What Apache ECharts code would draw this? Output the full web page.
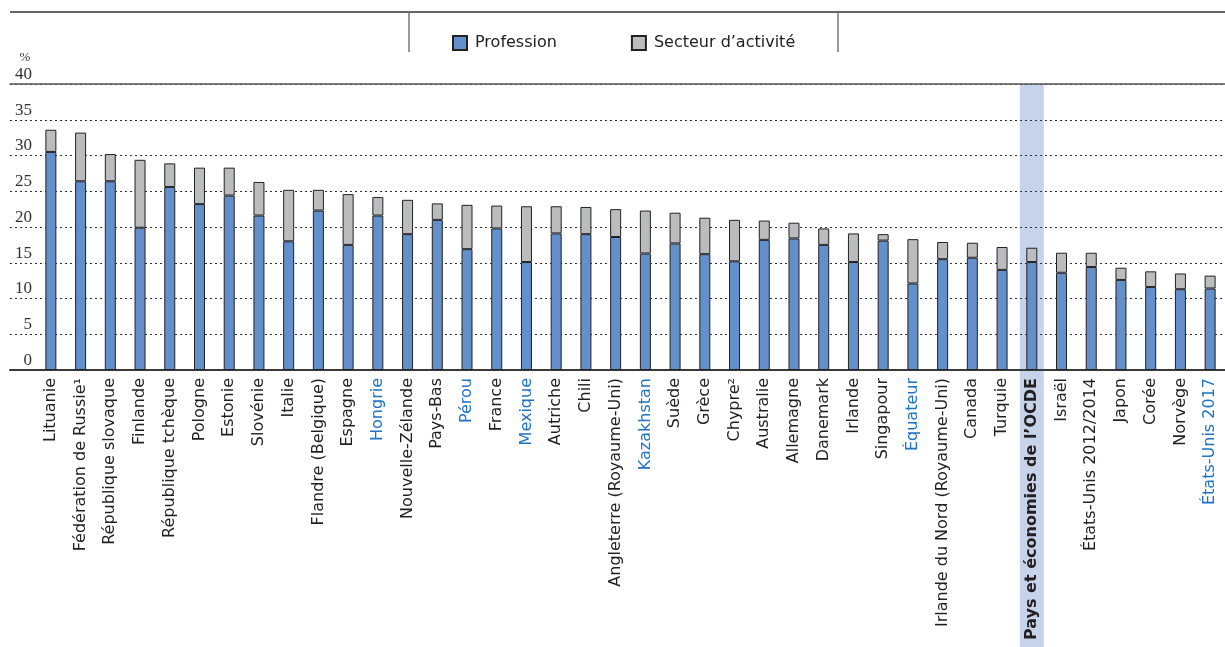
<!DOCTYPE html>
<html>
<head>
<meta charset="utf-8">
<style>
  html, body { margin: 0; padding: 0; background: #ffffff; }
  #chart { width: 1225px; height: 647px; }
</style>
<script src="https://cdn.jsdelivr.net/npm/echarts@6/dist/echarts.min.js"></script>
</head>
<body>
<div id="chart"></div>
<script>
// Countries / economies, in display order
const categories = [
  'Lituanie', 'Fédération de Russie¹', 'République slovaque', 'Finlande', 'République tchèque',
  'Pologne', 'Estonie', 'Slovénie', 'Italie', 'Flandre (Belgique)',
  'Espagne', 'Hongrie', 'Nouvelle-Zélande', 'Pays-Bas', 'Pérou',
  'France', 'Mexique', 'Autriche', 'Chili', 'Angleterre (Royaume-Uni)',
  'Kazakhstan', 'Suède', 'Grèce', 'Chypre²', 'Australie',
  'Allemagne', 'Danemark', 'Irlande', 'Singapour', 'Équateur',
  'Irlande du Nord (Royaume-Uni)', 'Canada', 'Turquie', 'Pays et économies de l’OCDE', 'Israël',
  'États-Unis 2012/2014', 'Japon', 'Corée', 'Norvège', 'États-Unis 2017'
];

// Mismatch by occupation (%), lower segment
const profession = [
  30.5, 26.4, 26.4, 19.9, 25.6,
  23.2, 24.4, 21.6, 18.0, 22.3,
  17.5, 21.6, 19.0, 21.0, 16.9,
  19.8, 15.1, 19.1, 19.0, 18.6,
  16.3, 17.7, 16.2, 15.2, 18.2,
  18.4, 17.5, 15.1, 18.1, 12.1,
  15.5, 15.7, 14.0, 15.1, 13.6,
  14.4, 12.6, 11.6, 11.3, 11.4
];

// Additional mismatch by industry (%), upper segment
const secteur = [
  3.1, 6.8, 3.8, 9.5, 3.3,
  5.1, 3.9, 4.7, 7.2, 2.9,
  7.1, 2.6, 4.8, 2.3, 6.2,
  3.2, 7.8, 3.8, 3.8, 3.9,
  6.0, 4.3, 5.1, 5.8, 2.7,
  2.2, 2.3, 4.0, 0.9, 6.2,
  2.4, 2.1, 3.2, 2.0, 2.8,
  2.0, 1.7, 2.2, 2.2, 1.8
];

// Value axis ticks
const yTicks = [0, 5, 10, 15, 20, 25, 30, 35, 40];

// Partner economies written in blue, and the OECD average row
const partnerEconomies = ['Hongrie', 'Pérou', 'Mexique', 'Kazakhstan', 'Équateur', 'États-Unis 2017'];
const oecdAverage = 'Pays et économies de l’OCDE';

const seriesNames = ['Profession', 'Secteur d’activité'];

const FONT = '"DejaVu Sans", "Noto Sans", sans-serif';
const BLUE = '#6390ca';
const GREY = '#bbbcc0';
const EDGE = '#222222';

const chart = echarts.init(document.getElementById('chart'), null, { renderer: 'canvas' });

const yMin = yTicks[0];
const yMax = yTicks[yTicks.length - 1];
const yStep = yTicks[1] - yTicks[0];

const option = {
  animation: false,
  backgroundColor: '#ffffff',
  grid: [
    // frame and dotted gridlines
    { left: 10, right: 0, top: 84, bottom: 277, containLabel: false },
    // bars
    { left: 36, width: 1190, top: 84, bottom: 277, containLabel: false }
  ],
  legend: {
    data: seriesNames,
    left: 452,
    top: 35,
    padding: 0,
    icon: 'rect',
    itemWidth: 14,
    itemHeight: 14,
    itemGap: 74,
    textStyle: { fontFamily: FONT, fontSize: 16, color: '#222222', padding: [0, 0, 0, 3] }
  },
  xAxis: [
    {
      gridIndex: 0, type: 'value', min: 0, max: 1, position: 'bottom',
      axisLine: { show: true, lineStyle: { color: '#3a3a3a', width: 2 } },
      axisTick: { show: false }, axisLabel: { show: false }, splitLine: { show: false }
    },
    {
      gridIndex: 0, type: 'value', min: 0, max: 1, position: 'top',
      axisLine: { show: true, lineStyle: { color: '#555555', width: 1.5 } },
      axisTick: { show: false }, axisLabel: { show: false }, splitLine: { show: false }
    },
    {
      gridIndex: 1, type: 'category', data: categories, position: 'bottom',
      axisLine: { show: false }, axisTick: { show: false },
      axisLabel: {
        interval: 0,
        rotate: 90,
        margin: 8,
        fontFamily: FONT,
        fontSize: 16,
        color: '#231f20',
        formatter: function (v) {
          if (v === oecdAverage) return '{b|' + v + '}';
          if (partnerEconomies.indexOf(v) >= 0) return '{p|' + v + '}';
          return v;
        },
        rich: {
          b: { fontFamily: FONT, fontSize: 16, fontWeight: 'bold', color: '#231f20' },
          p: { fontFamily: FONT, fontSize: 16, color: '#1f72c4' }
        }
      }
    }
  ],
  yAxis: [
    {
      gridIndex: 0, type: 'value', min: yMin, max: yMax, interval: yStep,
      name: '%',
      nameLocation: 'end',
      nameGap: 20,
      nameTextStyle: { fontFamily: '"Liberation Serif", serif', fontSize: 13, color: '#333333', align: 'center', padding: [0, 0, 0, 30] },
      axisLine: { show: false }, axisTick: { show: false },
      axisLabel: {
        inside: true, margin: 22, align: 'right', verticalAlign: 'bottom',
        padding: [0, 0, 1, 0],
        fontFamily: '"Liberation Serif", serif', fontSize: 17, color: '#333333'
      },
      splitLine: { show: true, lineStyle: { type: [2, 3], color: '#333333', width: 1 } }
    },
    { gridIndex: 1, type: 'value', min: yMin, max: yMax, show: false }
  ],
  series: [
    {
      name: seriesNames[0], type: 'bar', stack: 'total',
      xAxisIndex: 2, yAxisIndex: 1,
      barWidth: 11,
      itemStyle: { color: BLUE, borderColor: EDGE, borderWidth: 1 },
      data: profession
    },
    {
      name: seriesNames[1], type: 'bar', stack: 'total',
      xAxisIndex: 2, yAxisIndex: 1,
      barWidth: 11,
      itemStyle: { color: GREY, borderColor: EDGE, borderWidth: 1 },
      data: secteur
    }
  ],
  graphic: [
    // rule across the top and the legend separators
    { type: 'line', shape: { x1: 10, y1: 12, x2: 1225, y2: 12 }, style: { stroke: '#333333', lineWidth: 1.5 } },
    { type: 'line', shape: { x1: 409, y1: 12, x2: 409, y2: 52 }, style: { stroke: '#777777', lineWidth: 1.5 } },
    { type: 'line', shape: { x1: 838, y1: 12, x2: 838, y2: 52 }, style: { stroke: '#777777', lineWidth: 1.5 } }
  ]
};

chart.setOption(option);

// Shaded column behind the OECD average, positioned from the category axis
const cx = chart.convertToPixel({ xAxisIndex: 2 }, oecdAverage);
const yTop = chart.convertToPixel({ yAxisIndex: 1 }, yMax);
option.graphic.push({
  type: 'rect', z: -10,
  shape: { x: cx - 12, y: yTop, width: 24, height: 647 - yTop },
  style: { fill: '#c6d3eb' }
});
chart.setOption({ graphic: option.graphic });
</script>
</body>
</html>
